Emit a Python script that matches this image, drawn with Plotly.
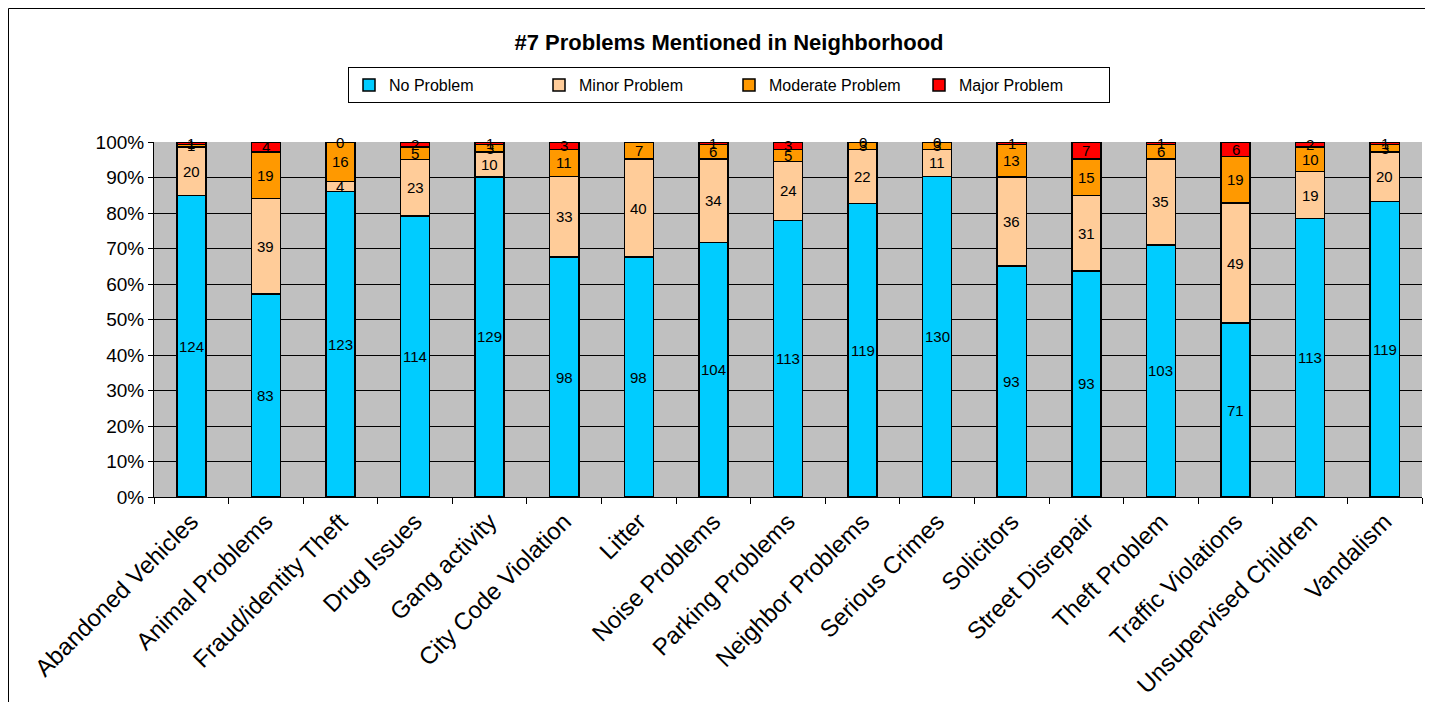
import plotly.graph_objects as go

categories = ["Abandoned Vehicles", "Animal Problems", "Fraud/identity Theft", "Drug Issues",
              "Gang activity", "City Code Violation", "Litter", "Noise Problems",
              "Parking Problems", "Neighbor Problems", "Serious Crimes", "Solicitors",
              "Street Disrepair", "Theft Problem", "Traffic Violations",
              "Unsupervised Children", "Vandalism"]
no_problem = [124, 83, 123, 114, 129, 98, 98, 104, 113, 119, 130, 93, 93, 103, 71, 113, 119]
minor_problem = [20, 39, 4, 23, 10, 33, 40, 34, 24, 22, 11, 36, 31, 35, 49, 19, 20]
moderate_problem = [1, 19, 16, 5, 3, 11, 7, 6, 5, 3, 3, 13, 15, 6, 19, 10, 3]
major_problem = [1, 4, 0, 2, 1, 3, 0, 1, 3, 0, 0, 1, 7, 1, 6, 2, 1]

series_names = ["No Problem", "Minor Problem", "Moderate Problem", "Major Problem"]
series_values = [no_problem, minor_problem, moderate_problem, major_problem]
series_colors = ["#00CCFF", "#FFCC99", "#FF9900", "#FF0000"]

FONT = "Liberation Sans, Arial, sans-serif"

# page has an 8px body margin; figure is sized to fit inside the 1433x702 window
W, H = 1425, 694

totals = [sum(v) for v in zip(*series_values)]
fig = go.Figure()
annotations = []
cum = [0.0] * len(categories)
for name, vals, col in zip(series_names, series_values, series_colors):
    pct = [v / t * 100 for v, t in zip(vals, totals)]
    fig.add_trace(go.Bar(
        x=categories, y=pct, name=name, width=0.39,
        marker=dict(color=col, line=dict(color="black", width=1.5)),
        customdata=vals, hovertemplate="%{x}<br>" + name + ": %{customdata}<extra></extra>",
    ))
    for i, (p, v) in enumerate(zip(pct, vals)):
        annotations.append(dict(x=categories[i], y=cum[i] + p / 2, text=str(v),
                                showarrow=False, xref="x", yref="y",
                                font=dict(family=FONT, size=15, color="black")))
        cum[i] += p

# outer chart border (left and top edges visible)
fig.add_shape(type="line", xref="paper", yref="paper",
              x0=(0.5 - 146) / 1268, x1=(0.5 - 146) / 1268, y0=-1.0, y1=(489 - 0.5) / 355,
              line=dict(color="black", width=1))
fig.add_shape(type="line", xref="paper", yref="paper",
              x0=(0.5 - 146) / 1268, x1=1.2, y0=(489 - 0.5) / 355, y1=(489 - 0.5) / 355,
              line=dict(color="black", width=1))

fig.update_layout(
    width=W, height=H,
    barmode="stack",
    paper_bgcolor="white", plot_bgcolor="#C0C0C0",
    margin=dict(l=146, r=11, t=134, b=205, autoexpand=False),
    font=dict(family=FONT, color="black"),
    title=dict(text="<b>#7 Problems Mentioned in Neighborhood</b>",
               x=(729 - 8) / W, xref="container", xanchor="center",
               y=1 - (42 - 8) / H, yref="container", yanchor="middle",
               font=dict(family=FONT, size=22, color="black")),
    legend=dict(orientation="h", x=(729 - 8) / W, xref="container", xanchor="center",
                y=1 - (67 - 8) / H, yref="container", yanchor="top",
                bordercolor="black", borderwidth=1, bgcolor="white",
                font=dict(family=FONT, size=16, color="black"),
                entrywidth=145, itemwidth=30, traceorder="normal"),
    annotations=annotations,
    showlegend=True,
)
fig.update_xaxes(tickangle=-45, tickfont=dict(family=FONT, size=24, color="black"),
                 showline=True, linecolor="black", linewidth=1,
                 ticks="outside", tickson="boundaries", ticklen=6, tickcolor="black",
                 showgrid=False, automargin=False)
fig.update_yaxes(range=[0, 100], dtick=10, ticksuffix="%",
                 tickfont=dict(family=FONT, size=19, color="black"),
                 showline=True, linecolor="black", linewidth=1,
                 ticks="outside", ticklen=5, tickcolor="black",
                 showgrid=True, gridcolor="black", gridwidth=1, zeroline=False,
                 automargin=False)

fig.write_html("out.html")
